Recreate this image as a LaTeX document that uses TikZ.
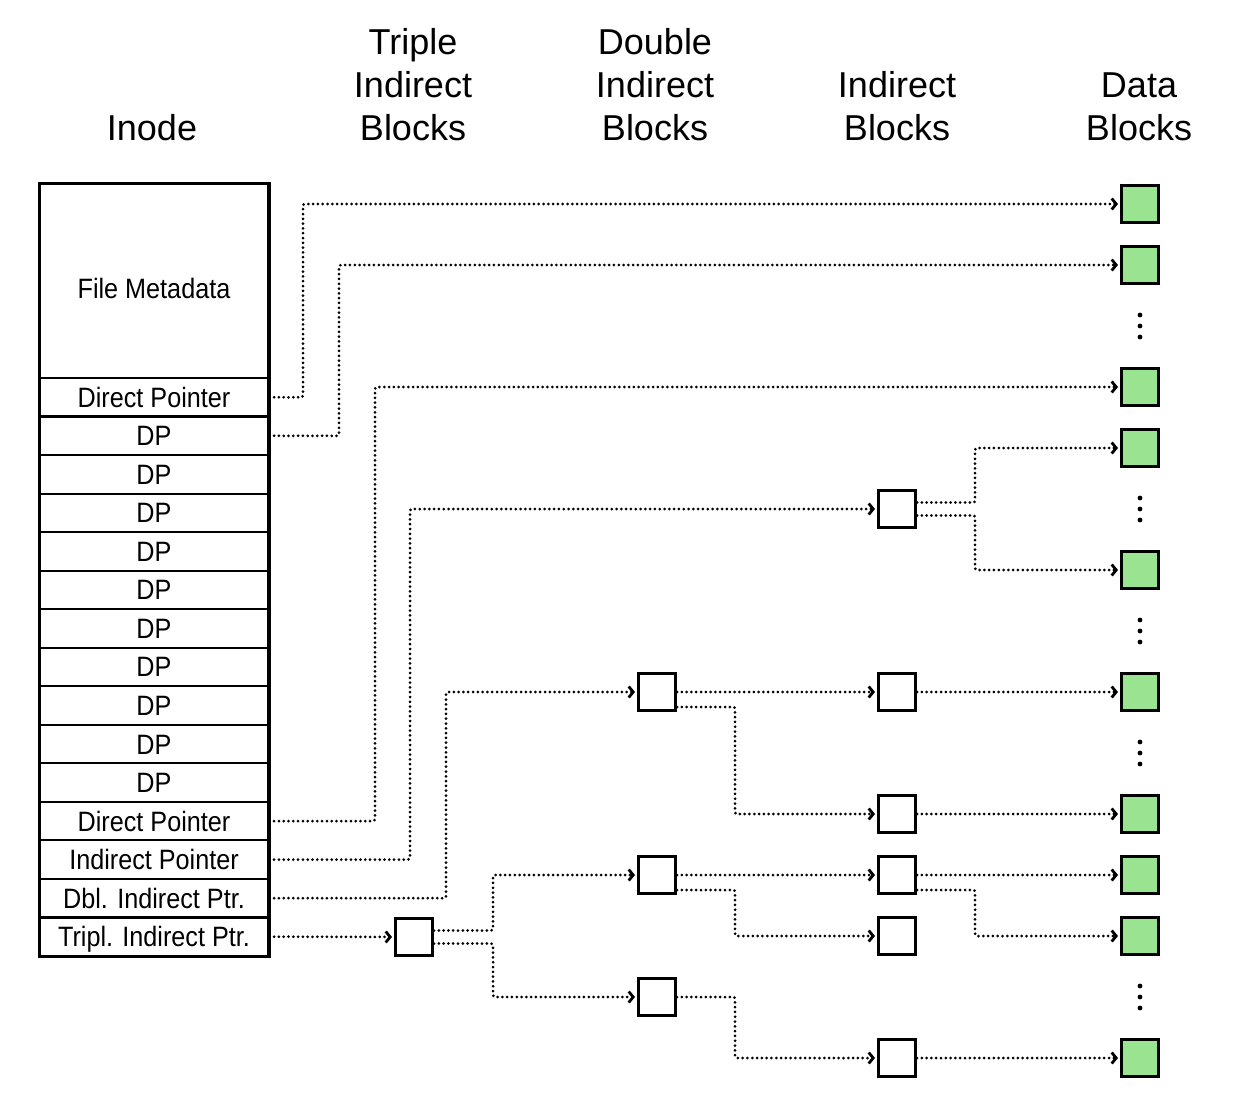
\documentclass[tikz,border=0pt]{standalone}
\usepackage{fontspec}
\setmainfont{Liberation Sans}
\newfontfamily\cellfont[FakeStretch=0.9]{Liberation Sans}
\usetikzlibrary{positioning,calc,arrows.meta}
\definecolor{datagreen}{RGB}{154,227,145}
\tikzset{
	cell/.style={draw, line width=2.2pt, minimum width=228, minimum height=38.53, inner sep=0pt, text height=20pt, text depth=0pt, font=\cellfont\fontsize{28}{30}\selectfont},
	blk/.style={draw, line width=3pt, minimum size=37, inner sep=0pt},
	datablk/.style={blk, fill=datagreen},
	head/.style={align=center, anchor=south, inner sep=0pt, font=\fontsize{36}{43}\selectfont},
	ptr/.style={line width=3pt, dash pattern=on 0pt off 4.8pt, line cap=round, rounded corners=2pt, -{Straight Barb[length=4.5pt,width=11pt,line width=2.8pt]}, shorten >=2pt},
}

\begin{document}
\begin{tikzpicture}[x=1pt, y=-1pt]
	\useasboundingbox (0,0) rectangle (1258,1116);

	% column titles
	\node[head] (hinode) at (152,141) {Inode};
	\node[head] (htriple) at (413,141) {Triple\\Indirect\\Blocks};
	\node[head] (hdouble) at (655,141) {Double\\Indirect\\Blocks};
	\node[head] (hind) at (897,141) {Indirect\\Blocks};
	\node[head] (hdata) at (1139,141) {Data\\Blocks};

	% the inode
	\node[cell, minimum height=194, text height=0pt] (meta) at (154,281) {\raisebox{-17pt}[0pt][0pt]{File Metadata}};
	\foreach \lab [count=\i from 0] in {Direct Pointer,DP,DP,DP,DP,DP,DP,DP,DP,DP,DP,Direct Pointer,Indirect Pointer,Dbl. Indirect Ptr.,Tripl. Indirect Ptr.}
		\node[cell] (r\i) at (154,{397.27+38.53*\i}) {\lab};
	\draw[line width=2.8pt] (meta.north west) rectangle (r14.south east);

	% pointer blocks
	\node[blk] (t1) at (414,937) {};
	\node[blk] (d1) at (657,692) {};
	\node[blk] (d2) at (657,875) {};
	\node[blk] (d3) at (657,997) {};
	\node[blk] (i1) at (897,509) {};
	\node[blk] (i2) at (897,692) {};
	\node[blk] (i3) at (897,814) {};
	\node[blk] (i4) at (897,875) {};
	\node[blk] (i5) at (897,936) {};
	\node[blk] (i6) at (897,1058) {};

	% data blocks
	\foreach \y [count=\j] in {204,265,387,448,570,692,814,875,936,1058}
		\node[datablk] (g\j) at (1140,\y) {};
	\foreach \y in {326,509,631,753,997}
		\foreach \dy in {-11,0,11}
			\fill (1140,\y+\dy) circle (2.4);

	% direct pointers
	\draw[ptr] ([xshift=5]r0.east) -| (303,0 |- g1) -- (g1);
	\draw[ptr] ([xshift=5]r1.east) -| (339,0 |- g2) -- (g2);
	\draw[ptr] ([xshift=5]r11.east) -| (375,0 |- g3) -- (g3);

	% indirect pointers
	\draw[ptr] ([xshift=5]r12.east) -| (410,0 |- i1) -- (i1);
	\draw[ptr] ([xshift=5]r13.east) -| (446,0 |- d1) -- (d1);
	\draw[ptr] ([xshift=5]r14.east) -- (t1);

	\draw[ptr] ([yshift=6.5]t1.east) -| (493,0 |- d2) -- (d2);
	\draw[ptr] ([yshift=-6.5]t1.east) -| (493,0 |- d3) -- (d3);

	\draw[ptr] (d1) -- (i2);
	\draw[ptr] ([yshift=-15]d1.east) -| (735,0 |- i3) -- (i3);
	\draw[ptr] (d2) -- (i4);
	\draw[ptr] ([yshift=-15]d2.east) -| (735,0 |- i5) -- (i5);
	\draw[ptr] (d3.east) -| (735,0 |- i6) -- (i6);

	\draw[ptr] ([yshift=6.5]i1.east) -| (975,0 |- g4) -- (g4);
	\draw[ptr] ([yshift=-6.5]i1.east) -| (975,0 |- g5) -- (g5);
	\draw[ptr] (i2) -- (g6);
	\draw[ptr] (i3) -- (g7);
	\draw[ptr] (i4) -- (g8);
	\draw[ptr] ([yshift=-15]i4.east) -| (975,0 |- g9) -- (g9);
	\draw[ptr] (i6) -- (g10);
\end{tikzpicture}
\end{document}
